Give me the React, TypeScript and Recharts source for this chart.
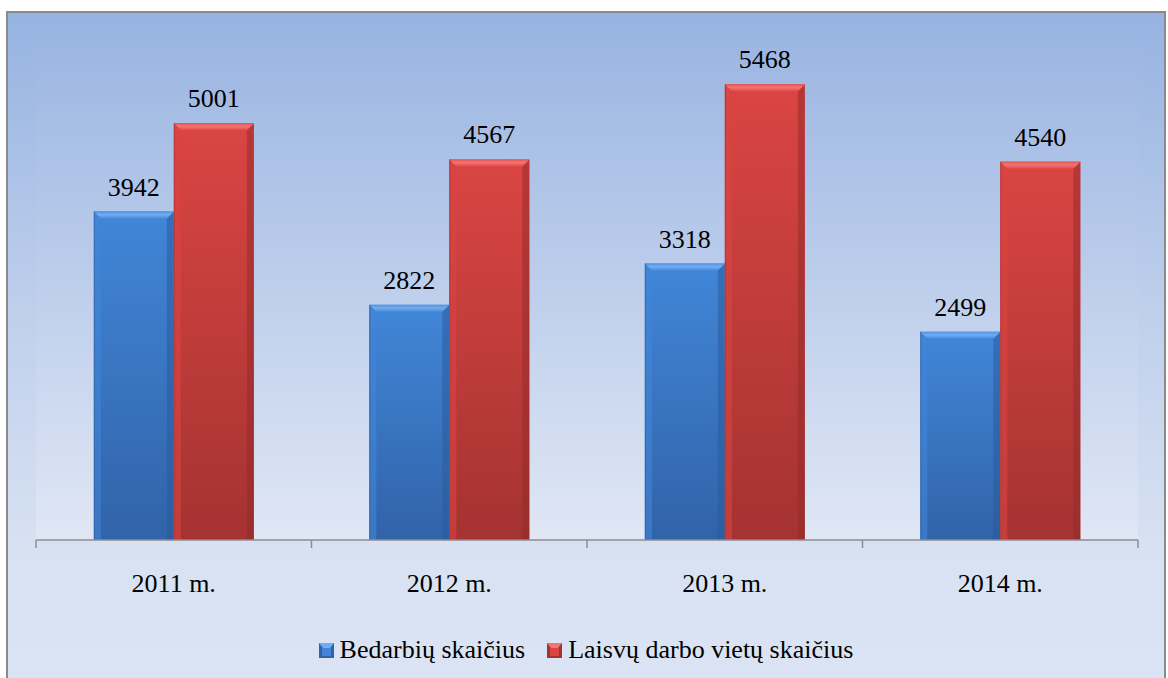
import { BarChart, Bar, XAxis, YAxis, CartesianGrid, LabelList } from "recharts";

const years = ["2011 m.", "2012 m.", "2013 m.", "2014 m."];
const unemployed = [3942, 2822, 3318, 2499];
const vacancies = [5001, 4567, 5468, 4540];
const seriesNames = ["Bedarbių skaičius", "Laisvų darbo vietų skaičius"];

const data = years.map((year, i) => ({
  year,
  unemployed: unemployed[i],
  vacancies: vacancies[i],
}));

const CHART_W = 1160;
const CHART_H = 666;
const MARGIN = { top: 28, right: 29, left: 29, bottom: 78 };
const BAND = (CHART_W - MARGIN.left - MARGIN.right) / years.length;
const FONT = "Times New Roman, Times, Liberation Serif, serif";

const palette = {
  blue: { edge: "#4f93e2", light: "#72aef2", low: "#468bdc", top: "#4186d8", bottom: "#3163a8", side: "#2a5898", rim: "#2d5fa5" },
  red: { edge: "#e65555", light: "#f57473", low: "#df4b49", top: "#da4543", bottom: "#a43331", side: "#922a29", rim: "#a83230" },
};

const BevelBar = (props: any) => {
  const { x, y, width, height, tone } = props;
  if (!height || height <= 0) return null;
  const c = palette[tone as "blue" | "red"];
  const b = 7;
  return (
    <g>
      <rect x={x} y={y} width={width} height={height} fill={`url(#grad-${tone})`} />
      <polygon
        points={`${x},${y} ${x + b},${y + b} ${x + b},${y + height} ${x},${y + height}`}
        fill={c.top}
        opacity={0.6}
      />
      <polygon
        points={`${x + width},${y} ${x + width - b},${y + b} ${x + width - b},${y + height} ${x + width},${y + height}`}
        fill={c.side}
        opacity={0.5}
      />
      <polygon
        points={`${x},${y} ${x + width},${y} ${x + width - b},${y + b} ${x + b},${y + b}`}
        fill={`url(#bevel-${tone})`}
      />
      <line x1={x + 0.5} y1={y} x2={x + 0.5} y2={y + height} stroke={c.rim} strokeOpacity={0.7} />
    </g>
  );
};

const YearTick = (props: any) => {
  const { x, y, payload, index } = props;
  const left = x - BAND / 2;
  return (
    <g>
      <line x1={left} y1={y} x2={left} y2={y + 8} stroke="#8c8c8c" strokeWidth={1.5} />
      {index === years.length - 1 ? (
        <line x1={x + BAND / 2} y1={y} x2={x + BAND / 2} y2={y + 8} stroke="#8c8c8c" strokeWidth={1.5} />
      ) : null}
      <text
        x={x}
        y={y + 43}
        textAnchor="middle"
        dominantBaseline="central"
        fontFamily={FONT}
        fontSize={26}
        fill="#000"
      >
        {payload.value}
      </text>
    </g>
  );
};

const LegendMark = ({ tone }: { tone: "blue" | "red" }) => {
  const c = palette[tone];
  return (
    <svg width={15} height={15} style={{ marginRight: 6 }}>
      <rect x={0} y={0} width={15} height={15} fill={c.bottom} />
      <polygon points="0,0 15,0 11,5 4,5" fill={c.light} />
      <rect x={3} y={5} width={9} height={8} fill={c.top} />
    </svg>
  );
};

export default function App() {
  return (
    <div
      style={{
        position: "absolute",
        left: 6,
        top: 11,
        width: CHART_W,
        height: CHART_H + 20,
        border: "2px solid #8a8a8a",
        boxSizing: "border-box",
        background: "linear-gradient(to bottom, #96b3e1 0%, #c0d0ec 45%, #d8e2f3 80%, #dbe4f4 100%)",
        overflow: "hidden",
      }}
    >
      <BarChart
        width={CHART_W}
        height={CHART_H}
        data={data}
        margin={MARGIN}
        barCategoryGap="21%"
        barGap={0}
        style={{ position: "absolute", left: -1, top: -1 }}
      >
        <defs>
          <linearGradient id="grad-blue" x1="0" y1="0" x2="0" y2="1">
            <stop offset="0%" stopColor={palette.blue.top} />
            <stop offset="100%" stopColor={palette.blue.bottom} />
          </linearGradient>
          <linearGradient id="grad-red" x1="0" y1="0" x2="0" y2="1">
            <stop offset="0%" stopColor={palette.red.top} />
            <stop offset="100%" stopColor={palette.red.bottom} />
          </linearGradient>
          <linearGradient id="bevel-blue" x1="0" y1="0" x2="0" y2="1">
            <stop offset="0%" stopColor={palette.blue.edge} />
            <stop offset="45%" stopColor={palette.blue.light} />
            <stop offset="100%" stopColor={palette.blue.low} />
          </linearGradient>
          <linearGradient id="bevel-red" x1="0" y1="0" x2="0" y2="1">
            <stop offset="0%" stopColor={palette.red.edge} />
            <stop offset="45%" stopColor={palette.red.light} />
            <stop offset="100%" stopColor={palette.red.low} />
          </linearGradient>
          <linearGradient id="plotBg" x1="0" y1="0" x2="0" y2="1">
            <stop offset="0%" stopColor="#9cb6e2" />
            <stop offset="100%" stopColor="#e0e7f5" />
          </linearGradient>
        </defs>
        <CartesianGrid horizontal={false} vertical={false} fill="url(#plotBg)" />
        <XAxis
          dataKey="year"
          height={60}
          tickSize={0}
          tickMargin={0}
          tickLine={false}
          axisLine={{ stroke: "#8c8c8c", strokeWidth: 1.5 }}
          tick={<YearTick />}
          interval={0}
        />
        <YAxis hide domain={[0, 6000]} />
        <Bar
          dataKey="unemployed"
          name={seriesNames[0]}
          isAnimationActive={false}
          shape={(p: any) => <BevelBar {...p} tone="blue" />}
        >
          <LabelList dataKey="unemployed" position="top" offset={16} fontFamily={FONT} fontSize={26} fill="#000" />
        </Bar>
        <Bar
          dataKey="vacancies"
          name={seriesNames[1]}
          isAnimationActive={false}
          shape={(p: any) => <BevelBar {...p} tone="red" />}
        >
          <LabelList dataKey="vacancies" position="top" offset={16} fontFamily={FONT} fontSize={26} fill="#000" />
        </Bar>
      </BarChart>
      <div
        style={{
          position: "absolute",
          top: 622,
          left: 0,
          width: "100%",
          display: "flex",
          justifyContent: "center",
          fontFamily: FONT,
          fontSize: 26,
          color: "#000",
          lineHeight: "30px",
        }}
      >
        {seriesNames.map((name, i) => (
          <span key={name} style={{ marginRight: i === 0 ? 22 : 0, display: "flex", alignItems: "center" }}>
            <LegendMark tone={i === 0 ? "blue" : "red"} />
            {name}
          </span>
        ))}
      </div>
    </div>
  );
}
